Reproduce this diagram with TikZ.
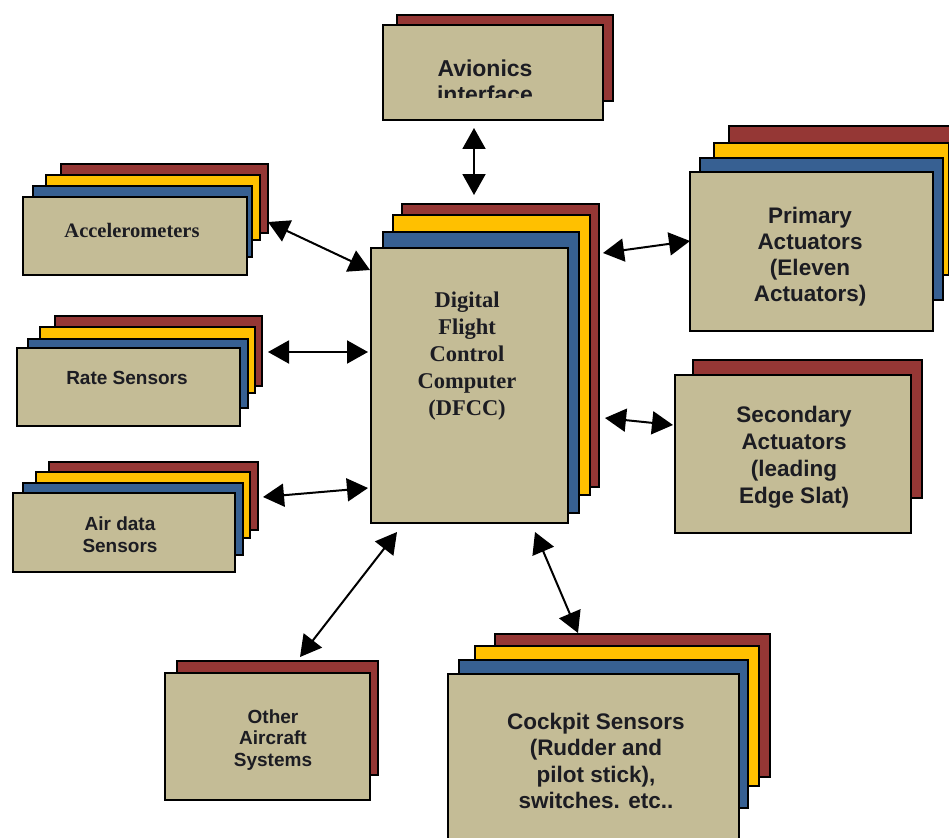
\documentclass[tikz,border=0pt]{standalone}
\usepackage{fontspec}
\setmainfont{Liberation Serif}
\newfontfamily\arialfam{Liberation Sans}
\usetikzlibrary{arrows.meta}

\definecolor{boxtan}{HTML}{C4BC96}
\definecolor{brick}{HTML}{953735}
\definecolor{gold}{HTML}{FFC000}
\definecolor{steel}{HTML}{376092}
\definecolor{ink}{HTML}{1C1C22}

\begin{document}
\begin{tikzpicture}[x=1pt,y=-1pt,
  edge/.style={draw=black, line width=1.8pt},
  lred/.style={edge, fill=brick},
  lyel/.style={edge, fill=gold},
  lblue/.style={edge, fill=steel},
  front/.style={edge, fill=boxtan, anchor=north west, inner sep=0pt, outer sep=0pt},
  link/.style={line width=2pt, {Triangle[length=21pt,width=23pt]}-{Triangle[length=21pt,width=23pt]}},
  sanstxt/.style={text=ink, align=center, inner sep=0pt},
  sertxt/.style={text=ink, align=center, inner sep=0pt},
]
\useasboundingbox (0,0) rectangle (949,837);
\clip (0,0) rectangle (949,837);

% ---- Avionics interface
\draw[lred] (397,15) rectangle (613,101);
\node[front, minimum width=220pt, minimum height=95pt] (av) at (383,25) {};
\begin{scope}
  \clip (383,25) rectangle (603,98);
  \node[sanstxt, font=\arialfam\bfseries\fontsize{23}{26}\selectfont] (av-t) at (485,81) {Avionics\\interface};
\end{scope}

% ---- Accelerometers
\draw[lred]  (61,164) rectangle (268,233);
\draw[lyel]  (46,175) rectangle (260,240);
\draw[lblue] (33,186) rectangle (252,257);
\node[front, minimum width=224pt, minimum height=78pt] (acc) at (23,197) {};
\node[sertxt, font=\bfseries\fontsize{20.5}{24}\selectfont] (acc-t) at (132,230) {Accelerometers};

% ---- Rate sensors
\draw[lred]  (55,316) rectangle (262,386);
\draw[lyel]  (40,327) rectangle (255,393);
\draw[lblue] (28,339) rectangle (248,408);
\node[front, minimum width=223pt, minimum height=78pt] (rate) at (17,348) {};
\node[sanstxt, font=\arialfam\bfseries\fontsize{19}{22}\selectfont] (rate-t) at (127,378) {Rate Sensors};

% ---- Air data sensors
\draw[lred]  (49,462) rectangle (258,530);
\draw[lyel]  (36,472) rectangle (250,538);
\draw[lblue] (23,483) rectangle (243,555);
\node[front, minimum width=222pt, minimum height=79pt] (air) at (13,493) {};
\node[sanstxt, font=\arialfam\bfseries\fontsize{19}{22}\selectfont] (air-t) at (120,535) {Air data\\Sensors};

% ---- Digital flight control computer
\draw[lred]  (402,204) rectangle (599,487);
\draw[lyel]  (393,215) rectangle (590,495);
\draw[lblue] (383,232) rectangle (579,513);
\node[front, minimum width=197pt, minimum height=275pt] (dfcc) at (371,248) {};
\node[sertxt, font=\bfseries\fontsize{22.5}{27}\selectfont] (dfcc-t) at (467,356) {Digital\\Flight\\Control\\Computer\\(DFCC)};

% ---- Primary actuators
\draw[lred]  (729,126) rectangle (960,265);
\draw[lyel]  (714,143) rectangle (949,275);
\draw[lblue] (700,158) rectangle (943,300);
\node[front, minimum width=243pt, minimum height=159pt] (prim) at (690,172) {};
\node[sanstxt, font=\arialfam\bfseries\fontsize{22.5}{26}\selectfont] (prim-t) at (810,257) {Primary\\Actuators\\(Eleven\\Actuators)};

% ---- Secondary actuators
\draw[lred] (693,360) rectangle (922,498);
\node[front, minimum width=236pt, minimum height=158pt] (sec) at (675,375) {};
\node[sanstxt, font=\arialfam\bfseries\fontsize{22.5}{27}\selectfont] (sec-t) at (794,457) {Secondary\\Actuators\\(leading\\Edge Slat)};

% ---- Other aircraft systems
\draw[lred] (177,661) rectangle (378,775);
\node[front, minimum width=205pt, minimum height=127pt] (oth) at (165,673) {};
\node[sanstxt, font=\arialfam\bfseries\fontsize{19}{21.5}\selectfont] (oth-t) at (273,740) {Other\\Aircraft\\Systems};

% ---- Cockpit sensors
\draw[lred]  (495,634) rectangle (770,777);
\draw[lyel]  (475,646) rectangle (759,786);
\draw[lblue] (459,660) rectangle (748,808);
\node[front, minimum width=291pt, minimum height=180pt] (cock) at (448,674) {};
\node[sanstxt, font=\arialfam\bfseries\fontsize{22.5}{26.5}\selectfont] (cock-t) at (596,761) {Cockpit Sensors\\(Rudder and\\pilot stick),\\switches. etc..};

% ---- connector end points
\coordinate (av-p)    at (474,128);  \coordinate (dfcc-n)  at (474,195);
\coordinate (acc-p)   at (268,222);  \coordinate (dfcc-w1) at (370,270);
\coordinate (rate-p)  at (268,352);  \coordinate (dfcc-w2) at (368,352);
\coordinate (air-p)   at (263,497);  \coordinate (dfcc-w3) at (368,488);
\coordinate (oth-p)   at (300,657);  \coordinate (dfcc-s1) at (397,532);
\coordinate (cock-p)  at (578,633);  \coordinate (dfcc-s2) at (535,532);
\coordinate (prim-p)  at (690,241);  \coordinate (dfcc-e1) at (603,253);
\coordinate (sec-p)   at (673,425);  \coordinate (dfcc-e2) at (605,418);

% ---- connectors
\draw[link] (av-p)   -- (dfcc-n);
\draw[link] (acc-p)  -- (dfcc-w1);
\draw[link] (rate-p) -- (dfcc-w2);
\draw[link] (air-p)  -- (dfcc-w3);
\draw[link] (oth-p)  -- (dfcc-s1);
\draw[link] (cock-p) -- (dfcc-s2);
\draw[link] (prim-p) -- (dfcc-e1);
\draw[link] (sec-p)  -- (dfcc-e2);
\end{tikzpicture}
\end{document}
